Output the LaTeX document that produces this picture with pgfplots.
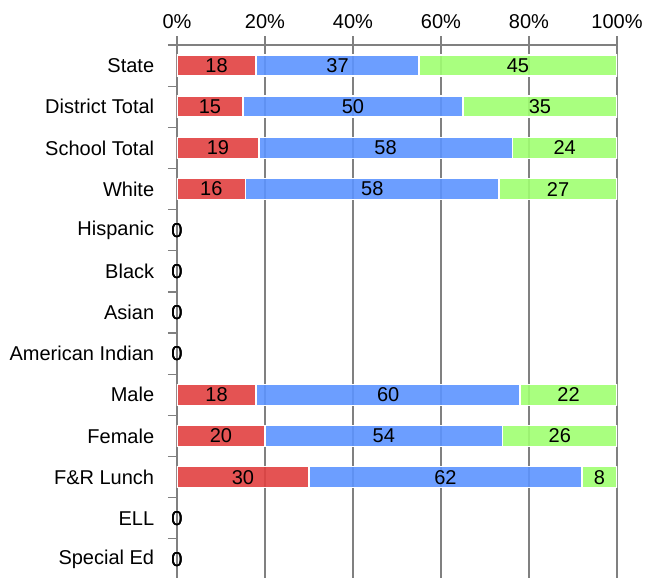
\documentclass[border=0pt]{standalone}
\usepackage{pgfplots}
\usepackage{pgfplotstable}
\pgfplotsset{compat=1.18}
\usepackage{fontspec}
\setmainfont{Liberation Sans}
\definecolor{cred}{RGB}{225,64,64}
\definecolor{cblue}{RGB}{92,147,255}
\definecolor{cgreen}{RGB}{160,255,113}
\definecolor{axgray}{RGB}{128,128,128}
\pgfplotstableread{
idx red blue green
0 18 37 45
1 15 50 35
2 18.6 57.6 23.8
3 15.6 57.6 26.8
4 0 0 0
5 0 0 0
6 0 0 0
7 0 0 0
8 18 60 22
9 20 54 26
10 30 62 8
11 0 0 0
12 0 0 0
}\datatable
\pgfplotstablecreatecol[create col/expr={\thisrow{red}/2}]{cr}\datatable
\pgfplotstablecreatecol[create col/expr={\thisrow{red}+\thisrow{blue}/2}]{cb}\datatable
\pgfplotstablecreatecol[create col/expr={\thisrow{red}+\thisrow{blue}+\thisrow{green}/2}]{cg}\datatable
\pgfplotsset{
  common/.style={
    width=440pt, height=535pt, scale only axis,
    xmin=0, xmax=100,
    ymin=-0.5, ymax=12.5, y dir=reverse,
    /pgf/number format/assume math mode=true,
  },
  lab/.style={draw=none, mark=none, point meta=explicit,
    nodes near coords={\pgfmathprintnumber[fixed,precision=0,assume math mode=true]{\pgfplotspointmeta}},
    every node near coord/.append style={anchor=center, text=black, font=\fontsize{20}{24}\selectfont}},
}
\begin{document}
\fontsize{20}{24}\selectfont
\begin{tikzpicture}
\useasboundingbox (-177pt,2pt) rectangle (469pt,580pt);
\begin{axis}[
  common,
  xbar stacked,
  bar width=21pt,
  axis x line*=top, axis y line*=left,
  axis line style={axgray, line width=1.2pt},
  xtick={0,20,...,100},
  xticklabel={\pgfmathprintnumber{\tick}\%},
  ytick={0,...,12},
  yticklabels={State, District Total, School Total, White, Hispanic, Black, Asian, American Indian, Male, Female, F\&R Lunch, ELL, Special Ed},
  minor ytick={-0.5,0.5,...,12.5},
  tick align=outside,
  major tick length=9pt, minor tick length=9pt,
  tick style={axgray, line width=1.2pt},
  major y tick style={draw=none},
  xmajorgrids=true, ymajorgrids=false,
  major grid style={axgray, line width=1.6pt},
  tick label style={font=\fontsize{20}{24}\selectfont},
  yticklabel style={xshift=-7pt},
]
\addplot[fill=cred, draw=white, line width=1.5pt, fill opacity=0.9]
  table[x=red, y=idx] \datatable;
\addplot[fill=cblue, draw=white, line width=1.5pt, fill opacity=0.9]
  table[x=blue, y=idx] \datatable;
\addplot[fill=cgreen, draw=white, line width=1.5pt, fill opacity=0.9]
  table[x=green, y=idx] \datatable;
\end{axis}
\begin{axis}[common, hide axis, clip=false]
\addplot[lab] table[x=cr, y=idx, meta=red] \datatable;
\addplot[lab] table[x=cb, y=idx, meta=blue] \datatable;
\addplot[lab] table[x=cg, y=idx, meta=green] \datatable;
\end{axis}
\end{tikzpicture}
\end{document}
